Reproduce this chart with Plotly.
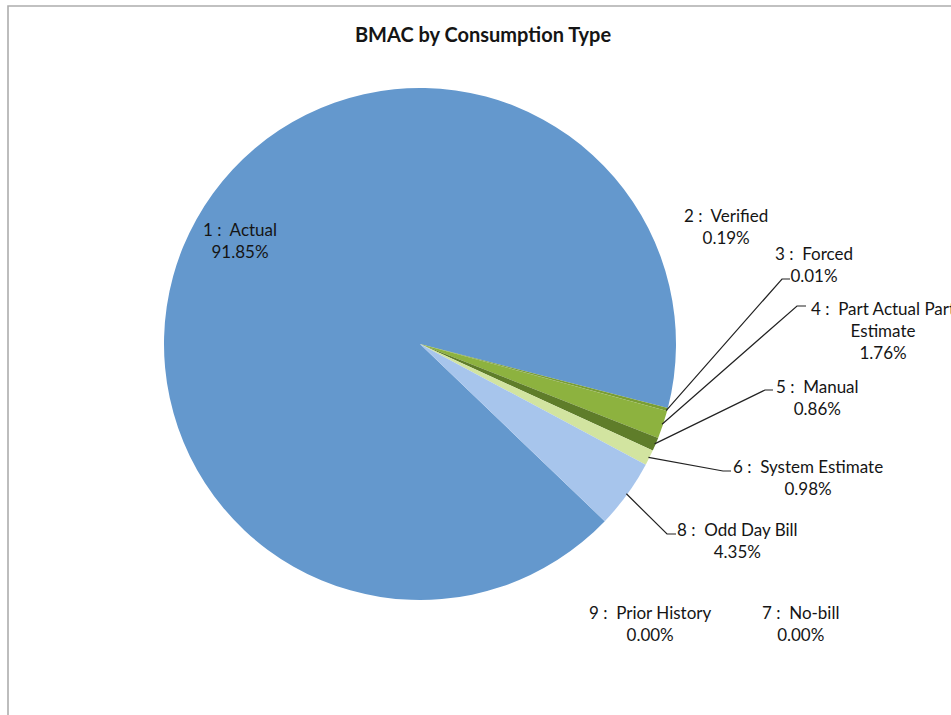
import math
import plotly.graph_objects as go

# ---- data ----
codes = [1, 2, 3, 4, 5, 6, 7, 8, 9]
names = ["Actual", "Verified", "Forced", "Part Actual Part Estimate", "Manual",
         "System Estimate", "No-bill", "Odd Day Bill", "Prior History"]
percents = [91.85, 0.19, 0.01, 1.76, 0.86, 0.98, 0.00, 4.35, 0.00]
colors = ["#6498CD", "#7A9E34", "#4F6B22", "#8DB23F", "#5F7D2A",
          "#D2E4A0", "#B9CDE5", "#A7C5EC", "#C0504D"]
title = "BMAC by Consumption Type"

# ---- layout constants (pixels) ----
W, H = 951, 715
CX, CY, R = 420, 344, 256
ROT = 133.8
FONT = "Lato, 'Open Sans', sans-serif"
TXT = "#151515"

def px(x):
    return x / W

def py(y):
    return 1 - y / H

fig = go.Figure(go.Pie(
    labels=[f"{c} : {n}" for c, n in zip(codes, names)],
    values=percents,
    sort=False,
    direction="clockwise",
    rotation=ROT,
    marker=dict(colors=colors, line=dict(width=0)),
    textinfo="none",
    hoverinfo="label+percent",
    showlegend=False,
    domain=dict(x=[px(CX - R), px(CX + R)], y=[py(CY + R), py(CY - R)]),
))

# label placement (pixel centres) and leader-line elbows, per slice index
label_pos = {0: (240, 241), 1: (726, 226.5), 2: (814, 264), 3: (883, 330),
             4: (817, 397.5), 5: (808, 477), 6: (800, 623.5), 7: (737, 540.5),
             8: (650, 623.5)}
leader = {2: [(782, 279), (790, 279)], 3: [(797, 306), (806, 306)],
          4: [(765, 390), (773, 390)], 5: [(723, 471), (731, 471)],
          7: [(667, 534), (676, 534)]}

total = sum(percents)
cum = 0.0
shapes = []
annotations = []
for i, (c, n, p) in enumerate(zip(codes, names, percents)):
    mid = math.radians(ROT + 360 * (cum + p / 2) / total)
    cum += p
    nm = n if c != 4 else "Part Actual Part<br>Estimate"
    x, y = label_pos[i]
    annotations.append(dict(
        x=px(x), y=py(y), xref="paper", yref="paper",
        text=f"{c} :\u00a0 {nm}<br>{p:.2f}%", showarrow=False,
        xanchor="center", yanchor="middle", align="center",
        font=dict(family=FONT, size=17, color=TXT)))
    if i in leader:
        sx = CX + (R - 1) * math.sin(mid)
        sy = CY - (R - 1) * math.cos(mid)
        pts = [(sx, sy)] + leader[i]
        path = "M " + " L ".join(f"{px(a)},{py(b)}" for a, b in pts)
        shapes.append(dict(type="path", path=path, xref="paper", yref="paper",
                           line=dict(color="#222222", width=1.2)))

# outer chart frame
shapes.append(dict(type="path", xref="paper", yref="paper",
                   path=f"M {px(8)},{py(H + 10)} L {px(8)},{py(6)} L {px(W + 10)},{py(6)}",
                   line=dict(color="#ADADAD", width=1.6)))

fig.update_layout(
    width=W, height=H,
    margin=dict(l=0, r=0, t=0, b=0),
    paper_bgcolor="white",
    plot_bgcolor="white",
    title=dict(text=f"<b>{title}</b>", x=483 / W, xanchor="center",
               xref="paper", y=py(35), yref="container", yanchor="middle",
               font=dict(family=FONT, size=20, color=TXT)),
    shapes=shapes,
    annotations=annotations,
)

fig.write_html("out.html")
